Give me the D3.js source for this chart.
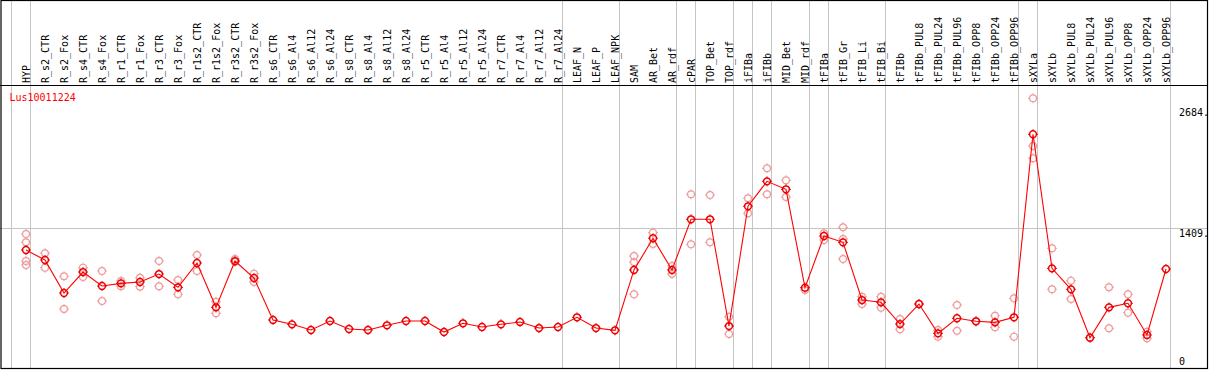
<!DOCTYPE html>
<html>
<head>
<meta charset="utf-8">
<script src="https://cdn.jsdelivr.net/npm/d3@7"></script>
<style>
  html, body { margin: 0; padding: 0; background: #fff; }
  svg { display: block; }
  text { font-family: "DejaVu Sans Mono", "Liberation Mono", monospace; font-size: 10px; }
</style>
</head>
<body>
<svg id="chart" width="1209" height="370"></svg>
<script>
const title = "Lus10011224";
const categories = ["HYP","R_s2_CTR","R_s2_Fox","R_s4_CTR","R_s4_Fox","R_r1_CTR","R_r1_Fox","R_r3_CTR","R_r3_Fox","R_r1s2_CTR","R_r1s2_Fox","R_r3s2_CTR","R_r3s2_Fox","R_s6_CTR","R_s6_Al4","R_s6_Al12","R_s6_Al24","R_s8_CTR","R_s8_Al4","R_s8_Al12","R_s8_Al24","R_r5_CTR","R_r5_Al4","R_r5_Al12","R_r5_Al24","R_r7_CTR","R_r7_Al4","R_r7_Al12","R_r7_Al24","LEAF_N","LEAF_P","LEAF_NPK","SAM","AR_Bet","AR_rdf","cPAR","TOP_Bet","TOP_rdf","iFIBa","iFIBb","MID_Bet","MID_rdf","tFIBa","tFIB_Gr","tFIB_Li","tFIB_Bi","tFIBb","tFIBb_PUL8","tFIBb_PUL24","tFIBb_PUL96","tFIBb_OPP8","tFIBb_OPP24","tFIBb_OPP96","sXYLa","sXYLb","sXYLb_PUL8","sXYLb_PUL24","sXYLb_PUL96","sXYLb_OPP8","sXYLb_OPP24","sXYLb_OPP96"];
const meanValues = [1180,1075,727,948,801,829,843,927,787,1043,576,1064,885,443,397,337,432,348,337,387,432,432,316,408,369,397,422,358,369,471,358,334,970,1304,970,1504,1504,379,1641,1904,1820,783,1328,1261,653,629,400,611,302,461,429,418,471,2400,987,766,256,576,619,285,980];
const replicateValues = [
  [1349,1261,1064,1022],[1146,994],[903,559],[994,896],[959,643],[854,798],[888,794],[1064,798],[864,713],[1128,959],[635,513],[1085,1055],[931,843],
  [],[],[],[],[],[],[],[],[],[],[],[],[],[],[],[],[],[],[],
  [1117,1051,713],[1363,1244],[1012,927],[1767,1240],[1760,1261],[477,295],[1725,1567],[2041,1767],[1915,1739],[759],
  [1356,1286],[1420,1296,1085],[688,611],[688,572],[453,345],[611],[337,267],[601,330],[429],[488,366],[671,267],
  [2779,2276,2147],[1198,766],[857,664],[256],[787,355],[713,520],[319,250],[]
];
const groupStarts = [0,1,29,32,35,36,38,39,40,42,43,46,53,54,61];
const axisTicks = [0, 1409, 2684];
const axisTickLabels = ["0", "1409.", "2684."];
const gridTicks = [1409];

const svg = d3.select("#chart");
const headerBottom = 85;

const x = d3.scalePoint().domain(categories).range([26, 26 + 19 * (categories.length - 1)]);
const y = d3.scaleLinear().domain([0, 2684]).range([362, 107.3]);
const step = x.step();

const sepX = i => (i < categories.length ? x(categories[i]) : x(categories[categories.length - 1]) + step) - 15;

// group separators
svg.append("g").selectAll("line").data(groupStarts).join("line")
  .attr("x1", d => Math.round(sepX(d)) + 0.5).attr("x2", d => Math.round(sepX(d)) + 0.5)
  .attr("y1", 0).attr("y2", 369)
  .attr("stroke", "#c4c4c4").attr("stroke-width", 1);

// horizontal grid
svg.append("g").selectAll("line").data(gridTicks).join("line")
  .attr("x1", 0).attr("x2", 1207)
  .attr("y1", d => Math.round(y(d)) + 0.5).attr("y2", d => Math.round(y(d)) + 0.5)
  .attr("stroke", "#c4c4c4").attr("stroke-width", 1);

// frame
svg.append("rect").attr("x", 1).attr("y", 0.5).attr("width", 1206.5).attr("height", 368)
  .attr("fill", "none").attr("stroke", "#000").attr("stroke-width", 1.2);
svg.append("line").attr("x1", 0).attr("x2", 1208).attr("y1", headerBottom + 0.5).attr("y2", headerBottom + 0.5)
  .attr("stroke", "#000").attr("stroke-width", 1.2);

// header labels
svg.append("g").selectAll("text").data(categories).join("text")
  .attr("transform", d => `translate(${x(d) + 3.5},83) rotate(-90)`)
  .attr("text-anchor", "start")
  .attr("fill", "#000")
  .text(d => d);

// title
svg.append("text").attr("x", 9.5).attr("y", 101).attr("fill", "#ff0000").text(title);

// axis labels (right)
svg.append("g").selectAll("text").data(axisTicks).join("text")
  .attr("x", 1179)
  .attr("y", d => Math.max(112, Math.min(365, y(d) + 8.5)))
  .attr("fill", "#000")
  .text((d, i) => axisTickLabels[i]);

// marker helper
function marker(g, color, sw) {
  g.append("circle").attr("r", 3.4).attr("fill", "none").attr("stroke", color).attr("stroke-width", sw);
  [[0,-3.4,0,-5],[0,3.4,0,5],[-3.4,0,-5,0],[3.4,0,5,0]].forEach(t => {
    g.append("line").attr("x1", t[0]).attr("y1", t[1]).attr("x2", t[2]).attr("y2", t[3])
      .attr("stroke", color).attr("stroke-width", 1);
  });
}

// replicates
const reps = [];
replicateValues.forEach((arr, i) => arr.forEach(v => reps.push({c: categories[i], v})));
svg.append("g").selectAll("g").data(reps).join("g")
  .attr("transform", d => `translate(${x(d.c)},${y(d.v)})`)
  .each(function() { marker(d3.select(this), "#ee9a9a", 1.2); });

// mean line
const line = d3.line().x((d, i) => x(categories[i])).y(d => y(d));
svg.append("path").datum(meanValues).attr("d", line)
  .attr("fill", "none").attr("stroke", "#ff0000").attr("stroke-width", 1.1);

// mean markers
svg.append("g").selectAll("g").data(meanValues).join("g")
  .attr("transform", (d, i) => `translate(${x(categories[i])},${y(d)})`)
  .each(function() { marker(d3.select(this), "#ee0000", 1.5); });
</script>
</body>
</html>
